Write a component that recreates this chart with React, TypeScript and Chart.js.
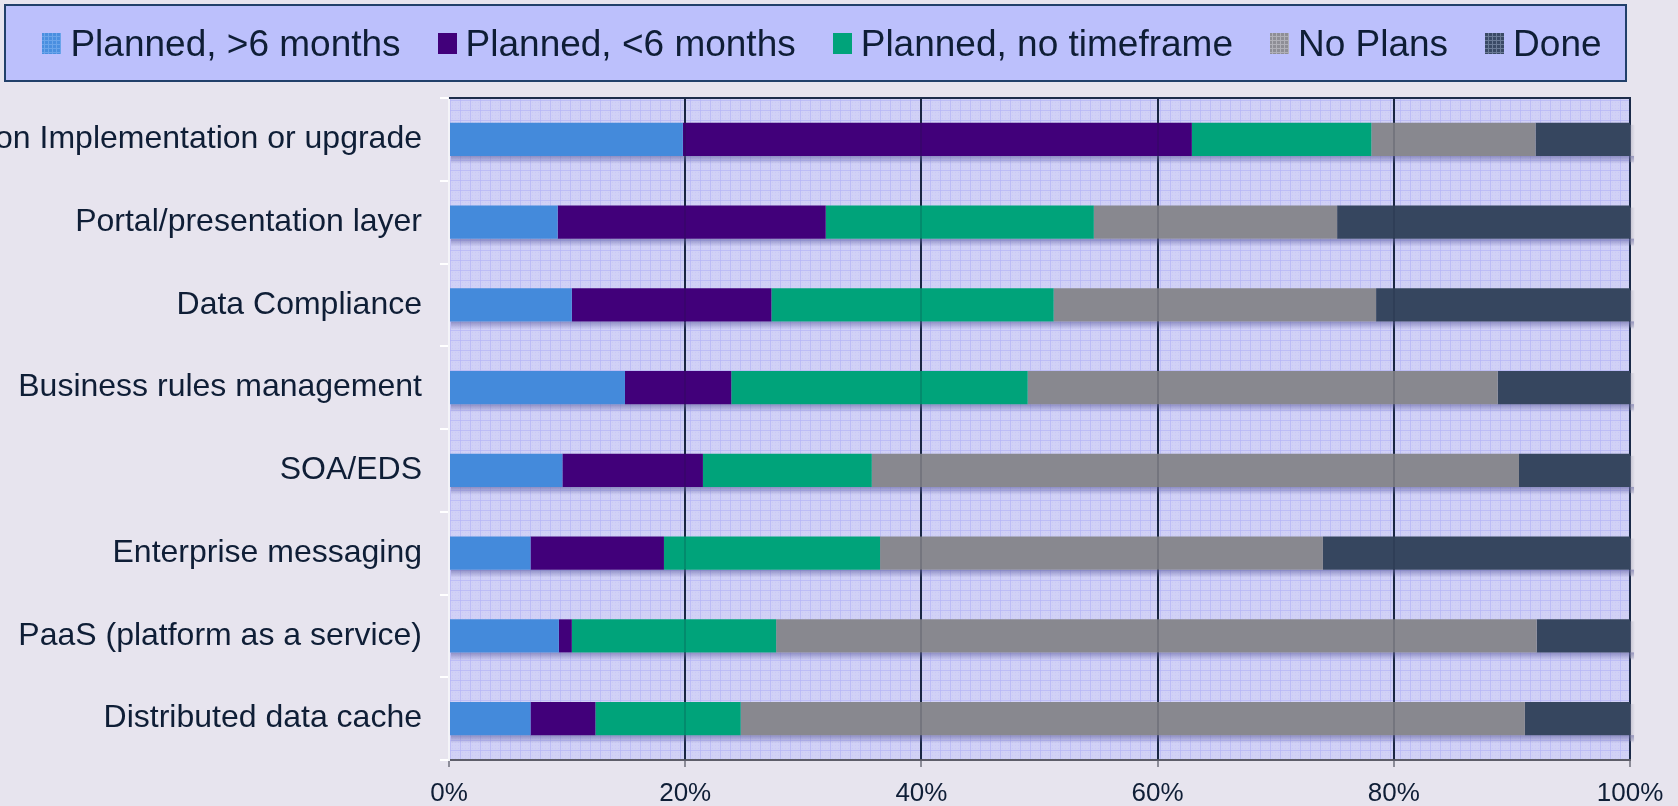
import React, { useEffect, useRef } from 'react';
import { Chart, registerables } from 'chart.js';

Chart.register(...registerables);

const categories = [
  'on Implementation or upgrade',
  'Portal/presentation layer',
  'Data Compliance',
  'Business rules management',
  'SOA/EDS',
  'Enterprise messaging',
  'PaaS (platform as a service)',
  'Distributed data cache',
];
const seriesNames = ['Planned, >6 months', 'Planned, <6 months', 'Planned, no timeframe', 'No Plans', 'Done'];
const plannedOver6 = [19.8, 9.2, 10.4, 14.9, 9.6, 6.9, 9.3, 6.9];
const plannedUnder6 = [43.1, 22.7, 16.9, 9.0, 11.9, 11.3, 1.1, 5.5];
const plannedNoTimeframe = [15.2, 22.7, 23.9, 25.1, 14.3, 18.3, 17.3, 12.3];
const noPlans = [13.9, 20.6, 27.3, 39.8, 54.8, 37.5, 64.4, 66.4];
const done = [8.0, 24.8, 21.5, 11.2, 9.4, 26.0, 7.9, 8.9];
const xTicks = [0, 20, 40, 60, 80, 100];

const seriesValues = [plannedOver6, plannedUnder6, plannedNoTimeframe, noPlans, done];
const seriesColors = ['#448ADB', '#41007A', '#00A37A', '#88888F', '#36465F'];

const FONT = "'Liberation Sans', Arial, sans-serif";
const TEXT = '#0F1E36';
const PAGE_BG = '#E7E4EE';

function makePattern(ctx: CanvasRenderingContext2D) {
  const c = document.createElement('canvas');
  c.width = 10;
  c.height = 10;
  const p = c.getContext('2d')!;
  p.fillStyle = '#D1D1F6';
  p.fillRect(0, 0, 10, 10);
  p.fillStyle = 'rgba(182,182,246,0.75)';
  p.fillRect(0, 0, 10, 1);
  p.fillRect(0, 0, 1, 10);
  p.fillStyle = 'rgba(196,196,246,0.6)';
  for (let i = 2; i < 10; i += 3) {
    for (let j = 2; j < 10; j += 3) p.fillRect(i, j, 1, 1);
  }
  return ctx.createPattern(c, 'repeat')!;
}

function markerPattern(ctx: CanvasRenderingContext2D, base: string, line: string) {
  const c = document.createElement('canvas');
  c.width = 4;
  c.height = 4;
  const p = c.getContext('2d')!;
  p.fillStyle = base;
  p.fillRect(0, 0, 4, 4);
  p.fillStyle = line;
  p.fillRect(0, 0, 4, 1);
  p.fillRect(0, 0, 1, 4);
  return ctx.createPattern(c, 'repeat')!;
}

const backgroundPlugin = {
  id: 'bgAndLegend',
  beforeDraw(chart: any) {
    const ctx: CanvasRenderingContext2D = chart.ctx;
    const ca = chart.chartArea;
    ctx.save();
    ctx.fillStyle = PAGE_BG;
    ctx.fillRect(0, 0, chart.width, chart.height);
    ctx.fillStyle = makePattern(ctx);
    ctx.fillRect(ca.left, ca.top, ca.right - ca.left, ca.bottom - ca.top);

    // legend box
    ctx.fillStyle = '#BCC0FC';
    ctx.fillRect(5, 5, 1621, 76);
    ctx.strokeStyle = '#22406A';
    ctx.lineWidth = 2;
    ctx.strokeRect(5, 5, 1621, 76);

    ctx.font = `37px ${FONT}`;
    ctx.textBaseline = 'middle';
    ctx.textAlign = 'left';
    const markerW = 19;
    const gapMT = 9;
    const gapItems = 37;
    const widths = chart.data.datasets.map((d: any) => ctx.measureText(d.label).width);
    const total = widths.reduce((a: number, b: number) => a + b, 0) + chart.data.datasets.length * (markerW + gapMT) + (chart.data.datasets.length - 1) * gapItems;
    let x = 822 - total / 2;
    const cy = 43;
    const markerFills = [
      markerPattern(ctx, '#4A8FE0', '#6AA4EA'),
      seriesColors[1],
      seriesColors[2],
      markerPattern(ctx, '#8E8E96', '#B0B0B8'),
      markerPattern(ctx, '#3A4A66', '#6A7A96'),
    ];
    chart.data.datasets.forEach((d: any, i: number) => {
      ctx.fillStyle = markerFills[i];
      ctx.fillRect(Math.round(x), cy - 10, markerW, 21);
      x += markerW + gapMT;
      ctx.fillStyle = TEXT;
      ctx.fillText(d.label, x, cy + 3);
      x += widths[i] + gapItems;
    });
    ctx.restore();
  },
  beforeDatasetsDraw(chart: any) {
    const ctx: CanvasRenderingContext2D = chart.ctx;
    const ca = chart.chartArea;
    ctx.save();
    const meta0 = chart.getDatasetMeta(0);
    const metaLast = chart.getDatasetMeta(chart.data.datasets.length - 1);
    meta0.data.forEach((el: any, i: number) => {
      const p = el.getProps(['y', 'height', 'base'], true);
      const last = metaLast.data[i];
      const x0 = p.base;
      const x1 = last.x;
      const bottom = p.y + p.height / 2;
      const g = ctx.createLinearGradient(0, bottom, 0, bottom + 8);
      g.addColorStop(0, 'rgba(105,105,168,0.65)');
      g.addColorStop(1, 'rgba(105,105,168,0)');
      ctx.fillStyle = g;
      ctx.fillRect(x0 + 1, bottom, x1 - x0 + 3, 8);
      const g2 = ctx.createLinearGradient(x1, 0, x1 + 5, 0);
      g2.addColorStop(0, 'rgba(150,150,170,0.45)');
      g2.addColorStop(1, 'rgba(150,150,170,0)');
      ctx.fillStyle = g2;
      ctx.fillRect(x1, p.y - p.height / 2 + 2, 5, p.height + 4);
    });
    // top border
    ctx.strokeStyle = '#1E2D4B';
    ctx.lineWidth = 2;
    ctx.beginPath();
    ctx.moveTo(ca.left, Math.round(ca.top));
    ctx.lineTo(ca.right + 1, Math.round(ca.top));
    ctx.stroke();
    ctx.restore();
  },
  afterDatasetsDraw(chart: any) {
    const ctx: CanvasRenderingContext2D = chart.ctx;
    const ca = chart.chartArea;
    const xs = chart.scales.x;
    ctx.save();
    ctx.strokeStyle = 'rgba(20,25,50,0.17)';
    ctx.lineWidth = 2;
    xTicks.forEach((v) => {
      if (v <= 0 || v >= 100) return;
      const px = Math.round(xs.getPixelForValue(v));
      ctx.beginPath();
      ctx.moveTo(px, ca.top);
      ctx.lineTo(px, ca.bottom);
      ctx.stroke();
    });
    ctx.restore();
  },
};

export default function App() {
  const ref = useRef<HTMLCanvasElement | null>(null);

  useEffect(() => {
    document.body.style.margin = '0';
    document.body.style.background = PAGE_BG;
    const canvas = ref.current!;
    const chart = new Chart(canvas, {
      type: 'bar',
      data: {
        labels: categories,
        datasets: seriesNames.map((name, i) => ({
          label: name,
          data: seriesValues[i],
          backgroundColor: seriesColors[i],
          borderWidth: 0,
          barPercentage: 0.4,
          categoryPercentage: 1.0,
        })),
      },
      options: {
        indexAxis: 'y',
        responsive: false,
        animation: false,
        devicePixelRatio: 1,
        layout: { padding: { top: 98, right: 48, left: 0, bottom: 0 } },
        plugins: {
          legend: { display: false },
          tooltip: { enabled: false },
          title: { display: false },
        },
        scales: {
          x: {
            type: 'linear',
            stacked: true,
            min: 0,
            max: 100,
            position: 'bottom',
            afterBuildTicks: (s: any) => {
              s.ticks = xTicks.map((v) => ({ value: v }));
            },
            ticks: {
              callback: (v: any) => v + '%',
              color: TEXT,
              font: { family: FONT, size: 26 },
              padding: 11,
              maxRotation: 0,
            },
            grid: {
              color: (c: any) => (c.tick && c.tick.value === 0 ? 'rgba(0,0,0,0)' : '#1B2A48'),
              lineWidth: 2,
              tickColor: '#8C8C98',
              tickLength: 7,
              drawTicks: true,
            },
            border: { color: '#5E5E6A', width: 2 },
            afterFit: (s: any) => {
              s.height = 46;
            },
          },
          y: {
            type: 'category',
            stacked: true,
            ticks: {
              color: TEXT,
              font: { family: FONT, size: 32 },
              padding: 18,
            },
            grid: {
              drawOnChartArea: false,
              drawTicks: true,
              tickLength: 9,
              tickColor: '#FFFFFF',
              lineWidth: 2,
              offset: true,
            },
            border: { color: '#F4F4F8', width: 2 },
            afterFit: (s: any) => {
              s.width = 449;
            },
          },
        },
      },
      plugins: [backgroundPlugin],
    } as any);
    return () => chart.destroy();
  }, []);

  return (
    <div style={{ width: 1678, height: 806, background: PAGE_BG }}>
      <canvas ref={ref} width={1678} height={806} style={{ display: 'block' }} />
    </div>
  );
}
